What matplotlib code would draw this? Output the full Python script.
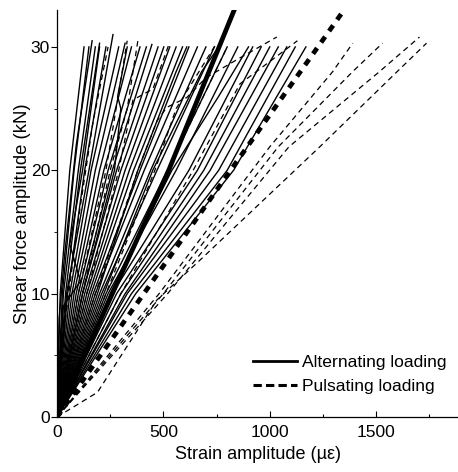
import matplotlib
matplotlib.use("Agg")
import matplotlib.pyplot as plt
from matplotlib.lines import Line2D

plt.rcParams['font.family'] = ['Liberation Sans', 'DejaVu Sans']
plt.rcParams['lines.scale_dashes'] = False

# ---- data: strain amplitude (µε) vs shear force amplitude (kN) ----
# alternating loading specimens (thin solid)
alt_x = [
    [0, 15, 60, 127], [0, 25, 80, 150], [0, 30, 100, 180], [0, 40, 110, 200],
    [0, 50, 130, 230], [0, 45, 150, 263], [0, 60, 160, 290], [0, 70, 180, 320],
    [0, 80, 200, 350], [0, 90, 220, 390], [0, 100, 240, 420], [0, 110, 260, 446],
    [0, 120, 280, 475], [0, 130, 300, 502], [0, 140, 320, 530], [0, 150, 340, 560],
    [0, 160, 360, 590], [0, 170, 390, 620], [0, 180, 410, 660], [0, 200, 440, 700],
    [0, 210, 470, 740], [0, 230, 520, 800], [0, 240, 560, 850], [0, 260, 620, 920],
    [0, 280, 660, 960], [0, 300, 690, 1000], [0, 320, 720, 1040], [0, 330, 760, 1080],
    [0, 350, 800, 1120], [0, 370, 830, 1170],
    [0, 120, 270, 300, 285, 330], [0, 30, 110, 60, 120, 200], [0, 10, 35, 90, 165],
    [0, 190, 380, 560, 610], [0, 220, 450, 680, 760], [0, 250, 540, 760, 900],
]
alt_y = [
    [0, 10, 20, 30], [0, 10, 20, 30], [0, 10, 20, 30], [0, 10, 20, 30.3],
    [0, 10, 20, 30], [0, 10, 20, 31], [0, 10, 20, 30], [0, 10, 20, 30.3],
    [0, 10, 20, 30], [0, 10, 20, 30], [0, 10, 20, 30], [0, 10, 20, 30.2],
    [0, 10, 20, 30], [0, 10, 20, 30], [0, 10, 20, 30], [0, 10, 20, 30],
    [0, 10, 20, 30], [0, 10, 20, 30], [0, 10, 20, 30], [0, 10, 20, 30],
    [0, 10, 20, 30], [0, 10, 20, 30], [0, 10, 20, 30], [0, 10, 20, 30],
    [0, 10, 20, 30], [0, 10, 20, 30], [0, 10, 20, 30], [0, 10, 20, 30],
    [0, 10, 20, 30], [0, 10, 20, 30],
    [0, 10, 20, 25, 26, 30], [0, 9, 11, 14, 20, 30], [0, 8, 13, 22, 30.5],
    [0, 10, 20, 28, 30], [0, 10, 20, 28, 30], [0, 10, 20, 26, 30],
]

# pulsating loading specimens (thin dashed)
pul_x = [
    [0, 40, 100, 170, 240], [0, 120, 250, 330, 380],
    [0, 140, 290, 357, 451, 530],
    [0, 180, 380, 470, 516, 610, 700, 859, 1033],
    [0, 230, 460, 560, 750],
    [0, 300, 640, 860, 1130],
    [0, 480, 1000, 1296, 1390],
    [0, 500, 1040, 1390, 1530],
    [0, 520, 1090, 1516, 1704],
    [0, 190, 470, 671, 1235, 1599, 1737],
    [0, 100, 230, 330], [0, 260, 520, 800],
]
pul_y = [
    [0, 8, 16, 24, 30], [0, 10, 20, 25, 30.5],
    [0, 10, 20, 25.7, 26.6, 30.4],
    [0, 10, 20, 24, 25.1, 25.9, 27.5, 29.1, 30.8],
    [0, 10, 20, 25, 30.3],
    [0, 10, 20, 27, 30.5],
    [0, 10, 21.9, 28, 30.3],
    [0, 10, 21.9, 28, 30.3],
    [0, 10, 21.9, 28, 30.8],
    [0, 2, 9.5, 12.7, 21.9, 28, 30.3],
    [0, 10, 20, 30.5], [0, 10, 20, 30],
]

# mean curves (thick)
alt_mean_x = [0, 260, 525, 845]
alt_mean_y = [0, 10, 20, 33.5]
pul_mean_x = [0, 408, 816, 1370]
pul_mean_y = [0, 10, 20, 33.5]

legend_labels = ["Alternating loading", "Pulsating loading"]

fig = plt.figure(figsize=(4.58, 4.72), dpi=100)
ax = fig.add_axes([0.1245, 0.1165, 0.8755, 0.8625])

for xs, ys in zip(alt_x, alt_y):
    ax.plot(xs, ys, color='black', lw=1.0)
for xs, ys in zip(pul_x, pul_y):
    ax.plot(xs, ys, color='black', lw=0.9, dashes=(4, 3))

ax.plot(alt_mean_x, alt_mean_y, color='black', lw=3.4, solid_capstyle='butt')
ax.plot(pul_mean_x, pul_mean_y, color='black', lw=3.4, dashes=(5, 5), dash_capstyle='butt')

ax.set_xlim(0, 1885)
ax.set_ylim(0, 33)
ax.set_xticks([0, 500, 1000, 1500])
ax.set_xticks([250, 750, 1250, 1750], minor=True)
ax.set_yticks([0, 10, 20, 30])
ax.set_yticks([5, 15, 25], minor=True)
ax.tick_params(axis='x', which='major', direction='in', length=4, width=0.8, labelsize=12.6, pad=6)
ax.tick_params(axis='x', which='minor', direction='in', length=2, width=0.8)
ax.tick_params(axis='y', which='major', direction='out', length=4, width=0.8, labelsize=12.6, pad=1)
ax.tick_params(axis='y', which='minor', direction='out', length=2, width=0.6)
for s in ['top', 'right']:
    ax.spines[s].set_visible(False)
for s in ['left', 'bottom']:
    ax.spines[s].set_linewidth(0.9)

ax.set_xlabel("Strain amplitude (µε)", fontsize=13, labelpad=4)
ax.set_ylabel("Shear force amplitude (kN)", fontsize=13.3, labelpad=0)

handles = [Line2D([], [], color='black', lw=2.0),
           Line2D([], [], color='black', lw=2.2, dashes=(6, 3))]
ax.legend(handles, legend_labels, loc='center left', bbox_to_anchor=(0.489, 0.105),
          frameon=False, fontsize=12.6, handlelength=2.5, handletextpad=0.3,
          labelspacing=0.5, borderpad=0, borderaxespad=0)

fig.savefig("out.png", dpi=100)
